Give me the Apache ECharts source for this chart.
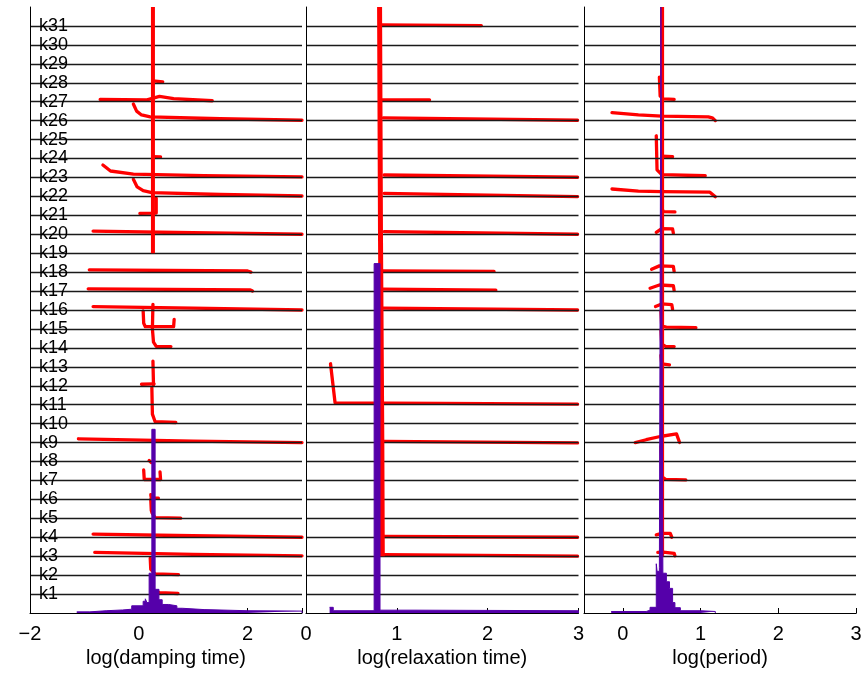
<!DOCTYPE html>
<html>
<head>
<meta charset="utf-8">
<script src="https://cdn.jsdelivr.net/npm/echarts@6/dist/echarts.min.js"></script>
<style>
html,body{margin:0;padding:0;background:#fff;}
#chart{width:864px;height:677px;}
</style>
</head>
<body>
<div id="chart"></div>
<script>
// ---------- data ----------
const kLabels = ['k1','k2','k3','k4','k5','k6','k7','k8','k9','k10','k11','k12','k13','k14','k15','k16',
  'k17','k18','k19','k20','k21','k22','k23','k24','k25','k26','k27','k28','k29','k30','k31'];

const axisNames = ['log(damping time)', 'log(relaxation time)', 'log(period)'];

// panel 1: log(damping time)
const dampMain = [[0.26,32],[0.26,19.0]];
const dampTraces = [
  [[0.26,28.1],[0.44,28.05]],
  [[-0.71,27.12],[0.15,27.1],[0.38,27.28],[0.64,27.16],[1.35,27.05]],
  [[-0.1,26.88],[-0.04,26.5],[0.05,26.3],[0.21,26.2],[1.5,26.1],[3,26.02]],
  [[0.26,24.1],[0.4,24.08]],
  [[-0.66,23.66],[-0.52,23.34],[-0.1,23.18],[1.2,23.1],[3,23.03]],
  [[-0.1,22.9],[-0.03,22.5],[0.08,22.3],[0.24,22.2],[1.5,22.1],[3,22.02]],
  [[0.02,21.1],[0.32,21.12],[0.32,21.9]],
  [[-0.84,20.17],[1.0,20.08],[3,20.0]],
  [[-0.91,18.12],[2.0,18.06],[2.06,18.0]],
  [[-0.93,17.12],[2.05,17.06],[2.09,17.0]],
  [[-0.84,16.18],[1.0,16.1],[3,16.0]],
  [[0.08,15.95],[0.09,15.3],[0.12,15.12],[0.64,15.12],[0.65,15.5]],
  [[0.26,16.3],[0.25,15.0],[0.27,14.3],[0.32,14.08],[0.59,14.07]],
  [[0.26,13.3],[0.27,12.05]],
  [[0.05,12.08],[0.28,12.1]],
  [[0.24,11.9],[0.25,10.5],[0.3,10.1],[0.68,10.06]],
  [[-1.11,9.2],[1.0,9.08],[3,9.0]],
  [[0.19,8.05],[0.23,7.95]],
  [[0.09,7.55],[0.1,7.05],[0.4,7.05],[0.39,7.45]],
  [[0.22,6.25],[0.23,6.08],[0.36,6.06]],
  [[0.22,6.0],[0.23,5.4]],
  [[0.24,5.3],[0.3,5.04],[0.77,5.01]],
  [[-0.84,4.17],[1.0,4.08],[3,4.0]],
  [[-0.81,3.2],[1.0,3.1],[3,3.02]],
  [[0.21,2.9],[0.22,2.3],[0.3,2.07],[0.73,2.03]],
  [[0.3,1.15],[0.38,1.08],[0.72,1.03]]
];
const dampHist = [[-1.14,0.06],[-0.9,0.12],[-0.6,0.16],[-0.3,0.2],[-0.13,0.38],[0.08,0.62],[0.12,0.75],
  [0.15,0.55],[0.19,2.1],[0.24,9.7],[0.30,1.25],[0.37,0.7],[0.43,0.45],[0.55,0.38],[0.70,0.25],
  [0.8,0.18],[1.2,0.12],[2.0,0.1],[3.0,0]];

// panel 2: log(relaxation time)
const relaxMain = [[0.81,32],[0.82,20],[0.835,9],[0.84,3]];
const relaxTraces = [
  [[0.83,31.05],[1.93,31.02]],
  [[0.84,27.1],[1.36,27.09]],
  [[0.85,26.15],[2.99,26.02]],
  [[0.86,23.13],[2.99,23.01]],
  [[0.86,22.16],[2.99,21.99]],
  [[0.86,20.14],[2.99,20.0]],
  [[0.84,18.07],[2.07,18.04]],
  [[0.84,17.1],[2.09,17.05]],
  [[0.85,16.1],[2.99,16.0]],
  [[0.27,13.16],[0.32,11.1],[1.5,11.07],[2.99,11.03]],
  [[0.86,9.06],[2.99,8.98]],
  [[0.86,4.04],[2.99,4.0]],
  [[0.86,3.08],[2.99,3.0]]
];
const relaxHist = [[0.26,0.3],[0.3,0.12],[0.75,18.45],[0.815,0.15],[1.2,0.12],[3.0,0]];

// panel 3: log(period)
const periodMain = [[0.505,32],[0.505,3]];
const periodTraces = [
  [[0.47,28.3],[0.48,27.3],[0.52,27.15],[0.66,27.12]],
  [[-0.14,26.42],[0.2,26.3],[0.5,26.24],[1.1,26.2],[1.15,26.15],[1.19,26.0]],
  [[0.5,24.13],[0.64,24.1]],
  [[0.43,25.2],[0.44,23.4],[0.5,23.15],[1.06,23.09]],
  [[-0.14,22.39],[0.2,22.28],[0.5,22.25],[1.12,22.22],[1.19,21.98]],
  [[0.5,21.4],[0.52,21.2],[0.67,21.18]],
  [[0.43,20.1],[0.5,20.3],[0.64,20.28],[0.65,20.05]],
  [[0.37,18.15],[0.47,18.33],[0.65,18.3],[0.66,18.03]],
  [[0.35,17.15],[0.47,17.32],[0.65,17.28],[0.66,17.03]],
  [[0.42,16.18],[0.5,16.32],[0.63,16.28],[0.64,16.04]],
  [[0.49,15.95],[0.5,15.15],[0.56,15.1],[0.94,15.07]],
  [[0.49,14.95],[0.5,14.2],[0.55,14.08],[0.66,14.07]],
  [[0.49,13.6],[0.5,13.15],[0.6,13.1]],
  [[0.16,9.0],[0.3,9.15],[0.48,9.32],[0.69,9.46],[0.73,9.0]],
  [[0.49,8.8],[0.5,7.2],[0.55,7.06],[0.81,7.03]],
  [[0.43,4.13],[0.5,4.2],[0.61,4.2],[0.63,4.0]],
  [[0.45,3.2],[0.52,3.22],[0.66,3.15],[0.67,3.02]]
];
const periodHist = [[-0.15,0.08],[0.3,0.15],[0.35,0.3],[0.43,2.6],[0.44,2.2],[0.47,2.4],[0.49,32],
  [0.515,2.1],[0.56,1.65],[0.6,1.3],[0.64,0.55],[0.67,0.28],[0.74,0.12],[1.0,0.08],[1.19,0]];

// ---------- chart ----------
const RED = '#ff0000', PURPLE = '#5500aa', FONT = 'Liberation Sans, Arial, Helvetica, sans-serif';
const TOP = 7, HEIGHT = 606;

const grids = [
  {left:30, width:272, top:TOP, height:HEIGHT},
  {left:306, width:272.5, top:TOP, height:HEIGHT},
  {left:584, width:272, top:TOP, height:HEIGHT},
  {left:622.86, width:233.14, top:TOP, height:HEIGHT}
].map(g => Object.assign({containLabel:false, outerBoundsMode:'none'}, g));

function fmtNum(v){ return v < 0 ? '\u2212' + (-v) : String(v); }

const axisLineStyle = {show:true, onZero:false, lineStyle:{color:'#000', width:1}};
const tickStyle = {show:true, inside:true, length:5, lineStyle:{color:'#000', width:1}};
const labelStyle = {fontSize:20, color:'#000', fontFamily:FONT, margin:11};
const nameStyle = {fontSize:20, color:'#000', fontFamily:FONT};

const xAxes = [
  {gridIndex:0, type:'value', min:-2, max:3, interval:2, axisLine:axisLineStyle, axisTick:tickStyle,
   axisLabel:Object.assign({formatter:v => v === 3 ? '' : fmtNum(v)}, labelStyle), splitLine:{show:false},
   name:axisNames[0], nameLocation:'middle', nameGap:35, nameTextStyle:nameStyle, z:2},
  {gridIndex:1, type:'value', min:0, max:3, interval:1, axisLine:axisLineStyle, axisTick:tickStyle,
   axisLabel:Object.assign({formatter:v => fmtNum(v)}, labelStyle), splitLine:{show:false},
   name:axisNames[1], nameLocation:'middle', nameGap:35, nameTextStyle:nameStyle, z:2},
  {gridIndex:2, type:'value', min:-0.5, max:3, interval:0.5, axisLine:axisLineStyle, axisTick:{show:false},
   axisLabel:{show:false}, splitLine:{show:false},
   name:axisNames[2], nameLocation:'middle', nameGap:35, nameTextStyle:nameStyle, z:2},
  {gridIndex:3, type:'value', min:0, max:3, interval:1, axisLine:axisLineStyle, axisTick:tickStyle,
   axisLabel:Object.assign({formatter:v => fmtNum(v)}, labelStyle), splitLine:{show:false}, z:2}
];

function yAxis(i, withLabels){
  return {gridIndex:i, type:'value', min:0, max:32, interval:1, z:2,
    axisLine:axisLineStyle, axisTick:{show:false},
    splitLine:{show:true, showMinLine:false, showMaxLine:false, lineStyle:{color:'#1a1a1a', width:1.4}},
    axisLabel: withLabels ? {show:true, inside:true, margin:9, fontSize:18, color:'#000', fontFamily:FONT,
      padding:[3,0,0,0],
      formatter:v => (v >= 1 && v <= kLabels.length) ? kLabels[v-1] : ''} : {show:false}};
}
const yAxes = [yAxis(0,true), yAxis(1,false), yAxis(2,false),
  {gridIndex:3, type:'value', min:0, max:32, show:false}];

const series = [];
function addPanel(i, main, traces, hist, mainWidth){
  traces.forEach(t => series.push({type:'line', xAxisIndex:i, yAxisIndex:i, data:t, symbol:'none',
    lineStyle:{color:RED, width:3.3, cap:'round', join:'round'}, z:1, silent:true}));
  series.push({type:'line', xAxisIndex:i, yAxisIndex:i, data:main, symbol:'none',
    lineStyle:{color:RED, width:mainWidth, cap:'butt', join:'round'}, z:3, silent:true});
  series.push({type:'line', xAxisIndex:i, yAxisIndex:i, data:hist, symbol:'none', step:'end',
    lineStyle:{color:PURPLE, width:1}, areaStyle:{color:PURPLE, opacity:1}, z:4, silent:true});
}
addPanel(0, dampMain, dampTraces, dampHist, 4);
addPanel(1, relaxMain, relaxTraces, relaxHist, 5);
addPanel(2, periodMain, periodTraces, periodHist, 4);

const chart = echarts.init(document.getElementById('chart'), null, {renderer:'canvas'});
chart.setOption({
  animation:false,
  backgroundColor:'#fff',
  grid:grids,
  xAxis:xAxes,
  yAxis:yAxes,
  series:series
});
</script>
</body>
</html>
